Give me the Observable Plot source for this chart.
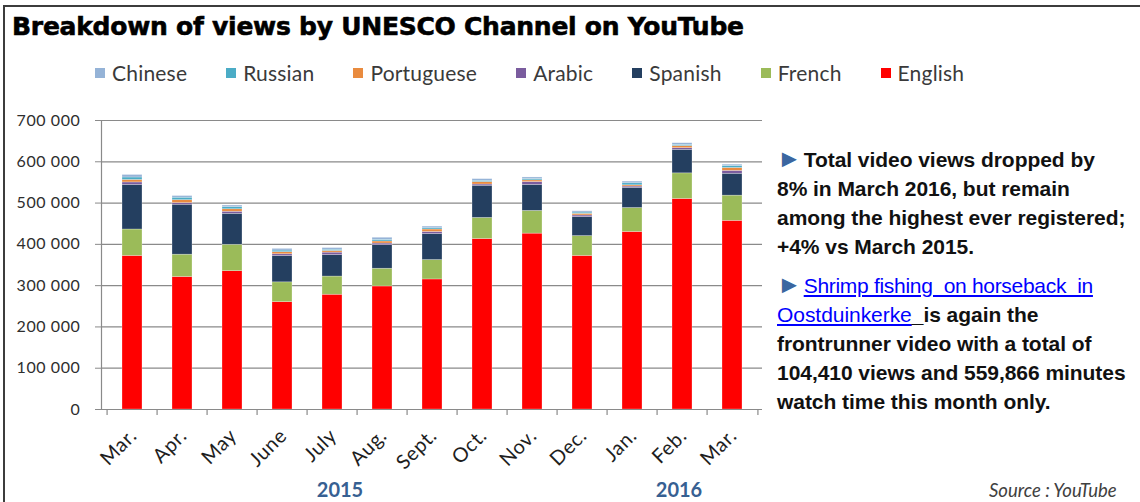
<!DOCTYPE html>
<html>
<head>
<meta charset="utf-8">
<script src="https://cdn.jsdelivr.net/npm/d3@7"></script>
<script src="https://cdn.jsdelivr.net/npm/@observablehq/plot@0.6"></script>
<style>
  html, body { margin: 0; padding: 0; background: #fff; }
  #wrap { position: relative; width: 1140px; height: 502px; overflow: hidden; background: #fff; font-family: Lato, "Open Sans", sans-serif; }
  #frame { position: absolute; left: 3px; top: 5px; width: 1150px; height: 520px; border-top: 2px solid #3c3c3c; border-left: 2px solid #3c3c3c; }
  #title { position: absolute; left: 12px; top: 12px; font-family: "DejaVu Sans", sans-serif; font-weight: bold; font-size: 25px; color: #000; white-space: nowrap; letter-spacing: -0.25px; -webkit-text-stroke: 0.6px #000; }
  #legend { position: absolute; left: 95px; top: 60px; display: flex; gap: 39px; font-size: 21px; color: #3a3a3a; white-space: nowrap; letter-spacing: 0.2px; }
  #legend .item { display: flex; align-items: center; }
  #legend .sw { width: 10px; height: 10px; margin-right: 7px; }
  #chart { position: absolute; left: 0; top: 100px; }
  .year { position: absolute; top: 477px; font-size: 20px; font-weight: bold; color: #376092; transform: translateX(-50%); }
  #notes { position: absolute; left: 777px; top: 145px; font-family: "Liberation Sans", Arial, sans-serif; font-weight: bold; font-size: 21px; line-height: 29px; color: #111; white-space: nowrap; letter-spacing: -0.05px; }
  #notes .p2 { margin-top: 10px; }
  #notes .tri { color: #3b66a0; font-weight: normal; font-size: 25px; line-height: 20px; margin-right: 2px; }
  #notes a { color: #0000ff; font-weight: normal; text-decoration: underline; }
  #notes a.l1 { letter-spacing: -0.3px; }
  #source { position: absolute; left: 989px; top: 479px; font-style: italic; font-size: 18.5px; color: #404040; }
</style>
</head>
<body>
<div id="wrap">
  <div id="frame"></div>
  <div id="title">Breakdown of views by UNESCO Channel on YouTube</div>
  <div id="legend"></div>
  <div id="chart"></div>
  <div id="years"></div>
  <div id="notes">
    <div><span class="tri">►</span>Total video views dropped by</div>
    <div>8% in March 2016, but remain</div>
    <div>among the highest ever registered;</div>
    <div>+4% vs March 2015.</div>
    <div class="p2"><span class="tri">►</span><a class="l1">Shrimp fishing&nbsp; on horseback&nbsp; in</a></div>
    <div><a>Oostduinkerke</a>_is again the</div>
    <div>frontrunner video with a total of</div>
    <div>104,410 views and 559,866 minutes</div>
    <div>watch time this month only.</div>
  </div>
  <div id="source">Source : YouTube</div>
</div>
<script>
// ---- data ----
const months = ["Mar.", "Apr.", "May", "June", "July", "Aug.", "Sept.", "Oct.", "Nov.", "Dec.", "Jan.", "Feb.", "Mar."];
const monthYears = ["2015", "2015", "2015", "2015", "2015", "2015", "2015", "2015", "2015", "2015", "2016", "2016", "2016"];
const yearLabels = ["2015", "2016"];
const yearLabelX = [340, 679];
const seriesLegendOrder = ["Chinese", "Russian", "Portuguese", "Arabic", "Spanish", "French", "English"];
const seriesColors = ["#95b3d7", "#4bacc6", "#e98b3f", "#7a5c9e", "#243f60", "#9bbb59", "#ff0000"];
const stackOrder = ["English", "French", "Spanish", "Arabic", "Portuguese", "Russian", "Chinese"];
const english    = [372000, 321000, 335000, 260000, 278000, 298000, 315000, 413000, 426000, 372000, 430000, 510000, 457000];
const french     = [64000, 54000, 64000, 48000, 44000, 43000, 47000, 51000, 55000, 48000, 58000, 62000, 61000];
const spanish    = [108000, 121000, 75000, 64000, 52000, 57000, 63000, 78000, 63000, 46000, 49000, 57000, 53000];
const arabic     = [6000, 4000, 5000, 4000, 6000, 4000, 5000, 3000, 7000, 4000, 3000, 4000, 7000];
const portuguese = [6000, 7000, 6000, 5000, 4000, 5000, 6000, 6000, 4000, 4000, 3000, 5000, 7000];
const russian    = [6000, 6000, 5000, 4000, 3000, 4000, 3000, 3000, 3000, 3000, 5000, 3000, 5000];
const chinese    = [6000, 4000, 4000, 4000, 4000, 5000, 4000, 4000, 4000, 3000, 4000, 4000, 3000];
const yTicks = [0, 100000, 200000, 300000, 400000, 500000, 600000, 700000];

// ---- build table ----
const valuesBySeries = {English: english, French: french, Spanish: spanish, Arabic: arabic, Portuguese: portuguese, Russian: russian, Chinese: chinese};
const keys = months.map((m, i) => m + " " + monthYears[i]);
const labelOf = new Map(keys.map((k, i) => [k, months[i]]));
const rows = [];
keys.forEach((k, i) => {
  stackOrder.forEach(s => rows.push({key: k, series: s, value: valuesBySeries[s][i]}));
});

// ---- layout ----
const W = 770, H = 402, mL = 101, mR = 8, mT = 20, mB = 93;
const step = (W - mL - mR) / keys.length;
const fmt = d => d === 0 ? "0" : d3.format(",")(d).replace(/,/g, " ");

const chart = Plot.plot({
  width: W, height: H,
  marginLeft: mL, marginRight: mR, marginTop: mT, marginBottom: mB,
  style: {background: "transparent", overflow: "visible", fontFamily: "Lato, 'Open Sans', sans-serif", fontSize: "16px", letterSpacing: "0.6px"},
  x: {domain: keys, paddingInner: 0.6, paddingOuter: 0.3, align: 0.5},
  y: {domain: [0, 700000]},
  color: {domain: seriesLegendOrder, range: seriesColors},
  marks: [
    Plot.gridY(yTicks, {stroke: "#8a8a8a", strokeOpacity: 1, strokeWidth: 1.2}),
    Plot.barY(rows, {x: "key", y: "value", fill: "series", stroke: "#ffffff", strokeOpacity: 0.45, strokeWidth: 0.6}),
    Plot.ruleY([0], {stroke: "#8a8a8a", strokeWidth: 1.2}),
    Plot.frame({anchor: "left", stroke: "#8a8a8a", strokeWidth: 1.2}),
    Plot.ruleX(keys, {x: d => d, y1: 0, y2: 0, dx: -step / 2, insetBottom: -6, stroke: "#8a8a8a", strokeWidth: 1.2}),
    Plot.ruleX(keys.slice(-1), {x: d => d, y1: 0, y2: 0, dx: step / 2, insetBottom: -6, stroke: "#8a8a8a", strokeWidth: 1.2}),
    Plot.axisY(yTicks, {tickFormat: fmt, tickSize: 6, tickPadding: 15, stroke: "#8a8a8a", fill: "#2e2e2e", fontSize: 16, label: null}),
    Plot.axisX({tickSize: 0, tickRotate: -45, tickPadding: 23, dx: 1, tickFormat: k => labelOf.get(k), fill: "#1e1e1e", fontSize: 20, letterSpacing: "0.2px", label: null})
  ]
});
document.getElementById("chart").appendChild(chart);

// ---- legend ----
const legend = document.getElementById("legend");
seriesLegendOrder.forEach((s, i) => {
  const item = document.createElement("div");
  item.className = "item";
  const sw = document.createElement("span");
  sw.className = "sw";
  sw.style.background = seriesColors[i];
  const t = document.createElement("span");
  t.textContent = s;
  item.appendChild(sw); item.appendChild(t);
  legend.appendChild(item);
});

// ---- year labels ----
const yearsDiv = document.getElementById("years");
yearLabels.forEach((y, i) => {
  const d = document.createElement("div");
  d.className = "year";
  d.style.left = yearLabelX[i] + "px";
  d.textContent = y;
  yearsDiv.appendChild(d);
});
</script>
</body>
</html>
